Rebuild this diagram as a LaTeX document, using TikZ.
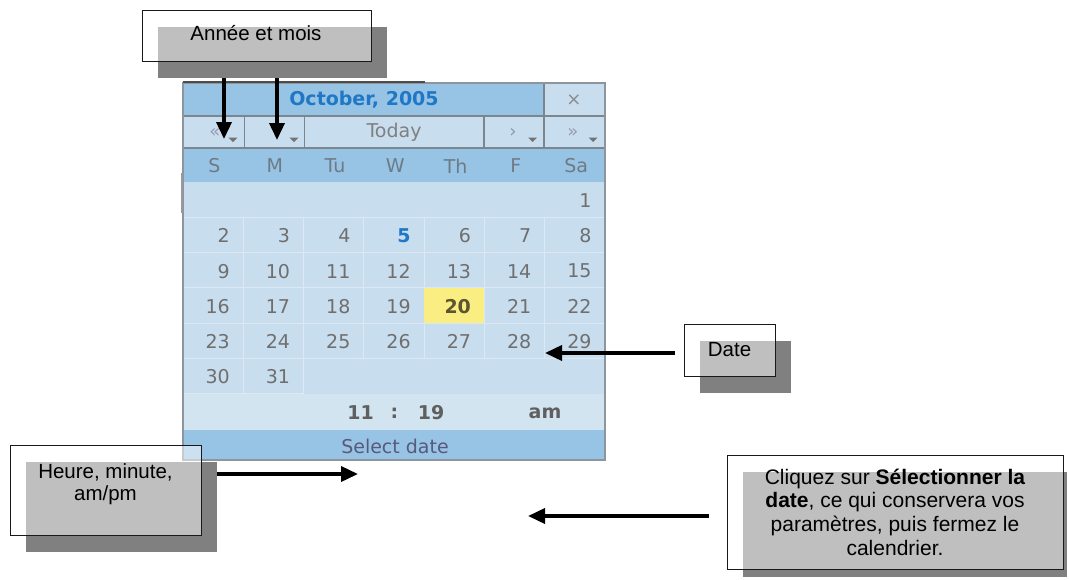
\documentclass[tikz,border=0pt]{standalone}
\usepackage{fontspec}
\setmainfont{Liberation Sans}
\newfontfamily\calfont{DejaVu Sans}
\usetikzlibrary{arrows.meta,shadows}

\definecolor{calLight}{HTML}{C8DDED}
\definecolor{calBlue}{HTML}{97C4E4}
\definecolor{calTime}{HTML}{D3E4F1}
\definecolor{gridLine}{HTML}{DCE9F4}
\definecolor{navBorder}{HTML}{7C868E}
\definecolor{outerBorder}{HTML}{8E969D}
\definecolor{selDay}{HTML}{FAEE82}
\definecolor{selText}{HTML}{5C5630}
\definecolor{numGray}{HTML}{6F6F6F}
\definecolor{wdGray}{HTML}{6E7B86}
\definecolor{titleBlue}{HTML}{1F77C6}
\definecolor{shadowGray}{HTML}{808080}
\definecolor{timeGray}{HTML}{5F5F5F}
\definecolor{navGlyph}{HTML}{9A9AB6}
\definecolor{navGlyphB}{HTML}{8A9AAE}

\pgfdeclarelayer{front}
\pgfsetlayers{main,front}

\tikzset{
  boxbase/.style={draw=black!90, line width=1pt, fill=white, fill opacity=0.5,
    draw opacity=1, text opacity=1, inner sep=0pt, align=center},
  callbox/.style={boxbase, font=\fontsize{20.5}{22}\selectfont,
    drop shadow={shadow xshift=16pt, shadow yshift=-17pt, fill=shadowGray, opacity=1}},
  calltext/.style={inner sep=0pt, align=center, font=\fontsize{20.5}{22}\selectfont},
  arr/.style={line width=3.6pt, -{Triangle[length=17pt,width=15pt]}},
  caltxt/.style={inner sep=0pt, font=\calfont\fontsize{19}{22}\selectfont},
  daynum/.style={caltxt, text=numGray, anchor=east},
  daycur/.style={caltxt, text=titleBlue, font=\calfont\bfseries\fontsize{19}{22}\selectfont, anchor=east},
  daysel/.style={caltxt, text=selText, font=\calfont\bfseries\fontsize{19}{22}\selectfont, anchor=east},
  wdname/.style={caltxt, text=wdGray},
  navglyph/.style={inner sep=0pt, font=\calfont\fontsize{18}{20}\selectfont},
  navtri/.style={fill=black!55},
  navline/.style={draw=navBorder, line width=1.4pt},
  gridcell/.style={draw=gridLine, line width=1pt},
  timetxt/.style={caltxt, text=timeGray, font=\calfont\bfseries\fontsize{19}{22}\selectfont},
}

\begin{document}
\begin{tikzpicture}[x=1pt,y=-1pt]
\useasboundingbox (0,0) rectangle (1069,579);

% ---------- callout boxes (drawn on top) ----------
\begin{pgfonlayer}{front}
  \node[callbox, minimum width=229pt, minimum height=51pt] (annee) at (256.5,35.5) {};
  \node[calltext, anchor=base] (anneetxt) at (256,40) {Année et mois};

  \node[callbox, minimum width=191pt, minimum height=90pt] (heure) at (105.5,490) {};
  \node[calltext, anchor=north] (heuretxt) at (105.5,463) {Heure, minute,\\am/pm};

  \node[callbox, minimum width=91pt, minimum height=52pt] (date) at (729.5,350) {Date};

  % this one has a narrower shadow than its box
  \fill[shadowGray] (743,472) rectangle (1067,577);
  \node[boxbase, font=\fontsize{21}{23.6}\selectfont, minimum width=336pt, minimum height=114pt] (valider) at (895,512)
    {Cliquez sur \textbf{Sélectionner la}\\\textbf{date}, ce qui conservera vos\\paramètres, puis fermez le\\calendrier.};
\end{pgfonlayer}

% ---------- calendar ----------
\fill[calLight] (183,83) rectangle (605,460);
\fill[calBlue] (183,83) rectangle (544,116);
\fill[calBlue] (183,148) rectangle (605,182);
\fill[calTime] (183,394) rectangle (605,430);
\fill[calBlue] (183,430) rectangle (605,460);

% day cells
\foreach \d in {1,...,31} {
  \pgfmathtruncatemacro\idx{\d+5}
  \pgfmathtruncatemacro\r{\idx/7}
  \pgfmathtruncatemacro\c{mod(\idx,7)}
  \pgfmathsetmacro\xa{183+\c*60.2857}
  \pgfmathsetmacro\ya{182+\r*35.3}
  \ifnum\d=20 \fill[selDay] (\xa,\ya) rectangle ++(60.2857,35.3);
  \else\ifnum\d>1 \draw[gridcell] (\xa,\ya) rectangle ++(60.2857,35.3); \fi\fi
  \ifnum\d=5 \def\ds{daycur}\else\ifnum\d=20 \def\ds{daysel}\else\def\ds{daynum}\fi\fi
  \node[\ds] (d\d) at (\xa+47,\ya+18.5) {\d};
}

% weekday names
\foreach \n [count=\i from 0] in {S,M,Tu,W,Th,F,Sa} {
  \node[wdname] (wd\i) at (183+\i*60.2857+31.5,166) {\n};
}

% header and navigation rows
\node[caltxt, text=titleBlue, font=\calfont\bfseries\fontsize{19}{22}\selectfont] (title) at (364,100) {October, 2005};
\node[caltxt, text=black!45, font=\calfont\fontsize{18}{20}\selectfont] (close) at (574,100) {×};
\node[caltxt, text=black!50] (today) at (394,132) {Today};
\node[navglyph, text=navGlyph] (prevyear) at (215,133) {«};
\node[navglyph, text=navGlyph] (prevmonth) at (276,133) {‹};
\node[navglyph, text=navGlyphB] (nextmonth) at (513,133) {›};
\node[navglyph, text=navGlyph] (nextyear) at (573,133) {»};
\foreach \tx in {233,294,532.5,593} {
  \fill[navtri] (\tx-4.5,137.5) -- (\tx+4.5,137.5) -- (\tx,142) -- cycle;
}

% time and footer
\node[timetxt] (hour) at (360.5,413) {11};
\node[timetxt] (colon) at (394.5,413) {:};
\node[timetxt] (minute) at (431,413) {19};
\node[timetxt] (ampm) at (545,413) {am};
\node[caltxt, text=black!55!blue!30!gray] (select) at (395,446) {Select date};

% borders
\draw[navline] (183,116) -- (605,116);
\draw[navline] (183,148) -- (605,148);
\draw[navline] (544,83) -- (544,148);
\foreach \bx in {244.5,304.5,484} { \draw[navline] (\bx,116) -- (\bx,148); }
\draw[draw=outerBorder, line width=1.6pt] (183,83) rectangle (605,460);
\draw[draw=black!70, line width=2.5pt] (183,82) -- (425,82);
\draw[draw=black!40, line width=2pt] (181.5,173) -- (181.5,213);

% ---------- arrows ----------
\coordinate (tipYear) at (224,139);
\coordinate (tipMonth) at (277,140);
\coordinate (tipDate) at (545,353);
\coordinate (tipTime) at (358,474);
\coordinate (tipSelect) at (528,516);

\draw[arr] (annee.south -| tipYear) -- (tipYear);
\draw[arr] (annee.south -| tipMonth) -- (tipMonth);
\draw[arr, shorten <=9pt] (date.west |- tipDate) -- (tipDate);
\draw[arr] (heure.east |- tipTime) -- (tipTime);
\draw[arr, shorten <=18pt] (valider.west |- tipSelect) -- (tipSelect);
\end{tikzpicture}
\end{document}
